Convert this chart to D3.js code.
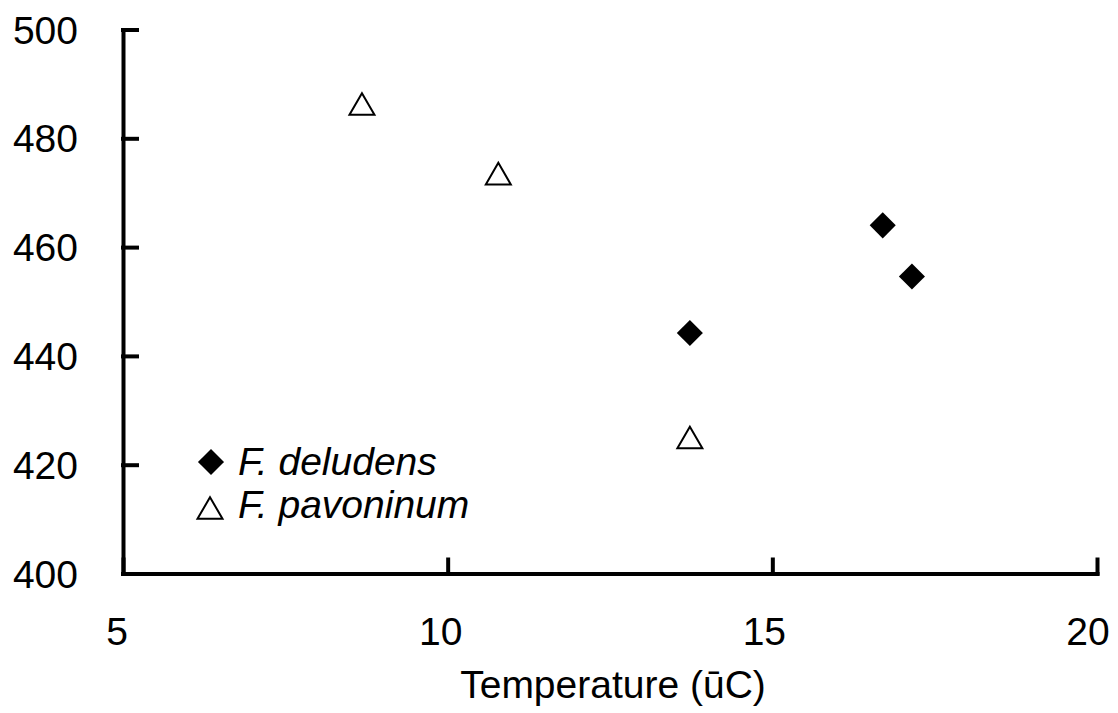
<!DOCTYPE html>
<html>
<head>
<meta charset="utf-8">
<script src="https://cdn.jsdelivr.net/npm/d3@7/dist/d3.min.js"></script>
<style>
  body { margin: 0; background: #fff; }
  svg { display: block; font-family: "Liberation Sans", Arial, sans-serif; }
</style>
</head>
<body>
<script>
// values
var deludensTemp = [16.70, 17.15, 13.73];
var deludensVal  = [464.0, 454.6, 444.2];
var pavoninumTemp = [8.68, 10.78, 13.73];
var pavoninumVal  = [486.3, 473.5, 425.0];
var xTicks = [5, 10, 15, 20];
var yTicks = [400, 420, 440, 460, 480, 500];
var seriesNames = ["F. deludens", "F. pavoninum"];

var W = 1118, H = 713;
var margin = {left: 123, right: 21, top: 29.5, bottom: 139.5};

var svg = d3.select("body").append("svg")
	.attr("width", W)
	.attr("height", H);

var x = d3.scaleLinear().domain([5, 20]).range([margin.left, W - margin.right]);
var y = d3.scaleLinear().domain([400, 500]).range([H - margin.bottom, margin.top]);

var fs = 39;

// axes, ticks pointing inward
svg.append("g")
	.attr("transform", "translate(" + x(5) + ",0)")
	.call(d3.axisRight(y).tickValues(yTicks).tickSize(14).tickSizeOuter(0).tickFormat(""));
svg.append("g")
	.attr("transform", "translate(0," + y(400) + ")")
	.call(d3.axisTop(x).tickValues(xTicks).tickSize(14).tickSizeOuter(0).tickFormat(""));

svg.selectAll(".domain, .tick line")
	.attr("stroke", "#000")
	.attr("stroke-width", 4)
	.attr("stroke-linecap", "square");

// tick labels
svg.append("g").selectAll("text")
	.data(yTicks)
	.enter().append("text")
		.attr("x", 78)
		.attr("y", function(d){ return y(d); })
		.attr("dy", "0.36em")
		.attr("text-anchor", "end")
		.attr("font-size", fs)
		.text(function(d){ return d; });

svg.append("g").selectAll("text")
	.data(xTicks)
	.enter().append("text")
		.attr("x", function(d, i){ return x(d) - 6 - i; })
		.attr("y", 645)
		.attr("text-anchor", "middle")
		.attr("font-size", fs)
		.text(function(d){ return d; });

svg.append("text")
	.attr("x", 613)
	.attr("y", 698)
	.attr("text-anchor", "middle")
	.attr("font-size", fs)
	.text("Temperature (\u016BC)");

// markers
var diamond = d3.symbol().type(d3.symbolSquare).size(340);
var tri = function(cx, cy, s){
	var h = s * Math.sqrt(3) / 2;
	return "M" + cx + "," + (cy - h / 2) + "L" + (cx + s / 2) + "," + (cy + h / 2) + "L" + (cx - s / 2) + "," + (cy + h / 2) + "Z";
};

svg.append("g").selectAll("path")
	.data(d3.range(deludensTemp.length))
	.enter().append("path")
		.attr("d", diamond)
		.attr("transform", function(i){ return "translate(" + x(deludensTemp[i]) + "," + y(deludensVal[i]) + ") rotate(45)"; })
		.attr("fill", "#000");

svg.append("g").selectAll("path")
	.data(d3.range(pavoninumTemp.length))
	.enter().append("path")
		.attr("d", function(i){ return tri(x(pavoninumTemp[i]), y(pavoninumVal[i]), 25); })
		.attr("fill", "#fff")
		.attr("stroke", "#000")
		.attr("stroke-width", 2);

// legend
var leg = svg.append("g");
leg.append("path")
	.attr("d", diamond)
	.attr("transform", "translate(211,462) rotate(45)")
	.attr("fill", "#000");
leg.append("path")
	.attr("d", tri(210, 508, 25))
	.attr("fill", "#fff")
	.attr("stroke", "#000")
	.attr("stroke-width", 2);
leg.selectAll("text")
	.data(seriesNames)
	.enter().append("text")
		.attr("x", 238)
		.attr("y", function(d, i){ return 475 + i * 43; })
		.attr("font-size", fs)
		.attr("font-style", "italic")
		.text(function(d){ return d; });
</script>
</body>
</html>
